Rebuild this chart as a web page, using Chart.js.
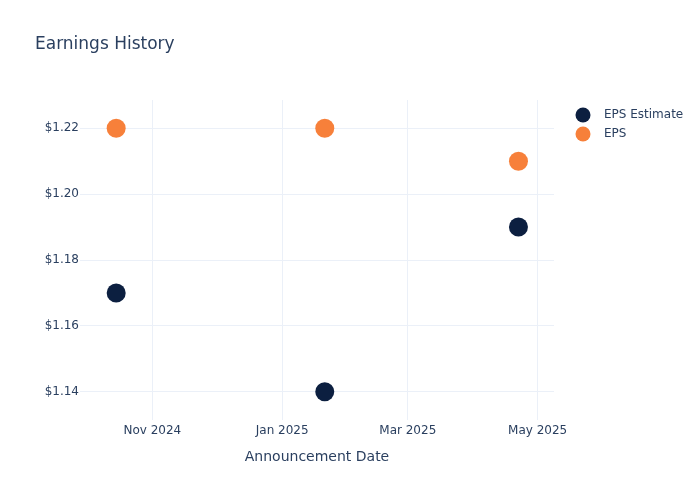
<!DOCTYPE html>
<html>
<head>
<meta charset="utf-8">
<script src="https://cdn.jsdelivr.net/npm/chart.js@4"></script>
<style>
  html, body { margin: 0; padding: 0; background: #fff; }
  #wrap { width: 700px; height: 500px; }
</style>
</head>
<body>
<div id="wrap"><canvas id="chart" width="700" height="500"></canvas></div>
<script>
// announcement dates and values
const dates = ['2024-10-15', '2025-01-21', '2025-04-22'];
const epsEstimate = [1.17, 1.14, 1.19];
const epsActual = [1.22, 1.22, 1.21];

const xTickDates = ['2024-11-01', '2025-01-01', '2025-03-01', '2025-05-01'];
const xTickLabels = ['Nov 2024', 'Jan 2025', 'Mar 2025', 'May 2025'];
const yTicks = [1.14, 1.16, 1.18, 1.20, 1.22];

const toTime = s => Date.parse(s + 'T00:00:00Z');
const DAY = 86400000;

const textColor = '#2a3f5f';
const gridColor = '#ebf0f8';
const FONT = '"DejaVu Sans", sans-serif';

const legendItems = [
    { label: 'EPS Estimate', color: '#0c1f40' },
    { label: 'EPS', color: '#f7803a' },
];

// title + legend drawn as text on the canvas
const decorations = {
    id: 'decorations',
    afterDraw(chart) {
        const ctx = chart.ctx;
        ctx.save();
        ctx.fillStyle = textColor;
        ctx.font = '17px ' + FONT;
        ctx.textBaseline = 'middle';
        ctx.textAlign = 'left';
        ctx.fillText('Earnings History', 35, 45);

        ctx.font = '12px ' + FONT;
        legendItems.forEach((item, i) => {
            const y = 115 + i * 19;
            ctx.beginPath();
            ctx.arc(583, y, 7.5, 0, Math.PI * 2);
            ctx.fillStyle = item.color;
            ctx.fill();
            ctx.fillStyle = textColor;
            ctx.fillText(item.label, 604, y);
        });
        ctx.restore();
    }
};

new Chart(document.getElementById('chart'), {
    type: 'scatter',
    data: {
        datasets: [
            {
                label: 'EPS Estimate',
                data: dates.map((d, i) => ({ x: toTime(d), y: epsEstimate[i] })),
                backgroundColor: '#0c1f40',
                borderColor: '#0c1f40',
                pointRadius: 9.5,
                pointHoverRadius: 9.5,
                borderWidth: 0,
            },
            {
                label: 'EPS',
                data: dates.map((d, i) => ({ x: toTime(d), y: epsActual[i] })),
                backgroundColor: '#f7803a',
                borderColor: '#f7803a',
                pointRadius: 9.5,
                pointHoverRadius: 9.5,
                borderWidth: 0,
            },
        ],
    },
    options: {
        responsive: false,
        animation: false,
        devicePixelRatio: 1,
        layout: { padding: { left: 0, right: 146, top: 100, bottom: 30 } },
        plugins: {
            legend: { display: false },
            tooltip: { enabled: false },
        },
        scales: {
            x: {
                type: 'linear',
                min: toTime('2024-11-01') - 34 * DAY,
                max: toTime('2025-05-01') + 7.7 * DAY,
                afterFit: s => { s.height = 50; },
                afterBuildTicks: s => { s.ticks = xTickDates.map(d => ({ value: toTime(d) })); },
                ticks: {
                    color: textColor,
                    font: { family: FONT, size: 12 },
                    padding: 4,
                    maxRotation: 0,
                    callback: (v) => xTickLabels[xTickDates.map(toTime).indexOf(v)],
                },
                grid: { color: gridColor, lineWidth: 1, drawTicks: false },
                border: { display: false },
                title: {
                    display: true,
                    text: 'Announcement Date',
                    color: textColor,
                    font: { family: FONT, size: 14 },
                },
            },
            y: {
                min: 1.1314,
                max: 1.2286,
                afterFit: s => { s.width = 80; },
                afterBuildTicks: s => { s.ticks = yTicks.map(v => ({ value: v })); },
                ticks: {
                    color: textColor,
                    font: { family: FONT, size: 12 },
                    padding: 1,
                    callback: v => '$' + v.toFixed(2),
                },
                grid: { color: gridColor, lineWidth: 1, drawTicks: false },
                border: { display: false },
            },
        },
    },
    plugins: [decorations],
});
</script>
</body>
</html>
